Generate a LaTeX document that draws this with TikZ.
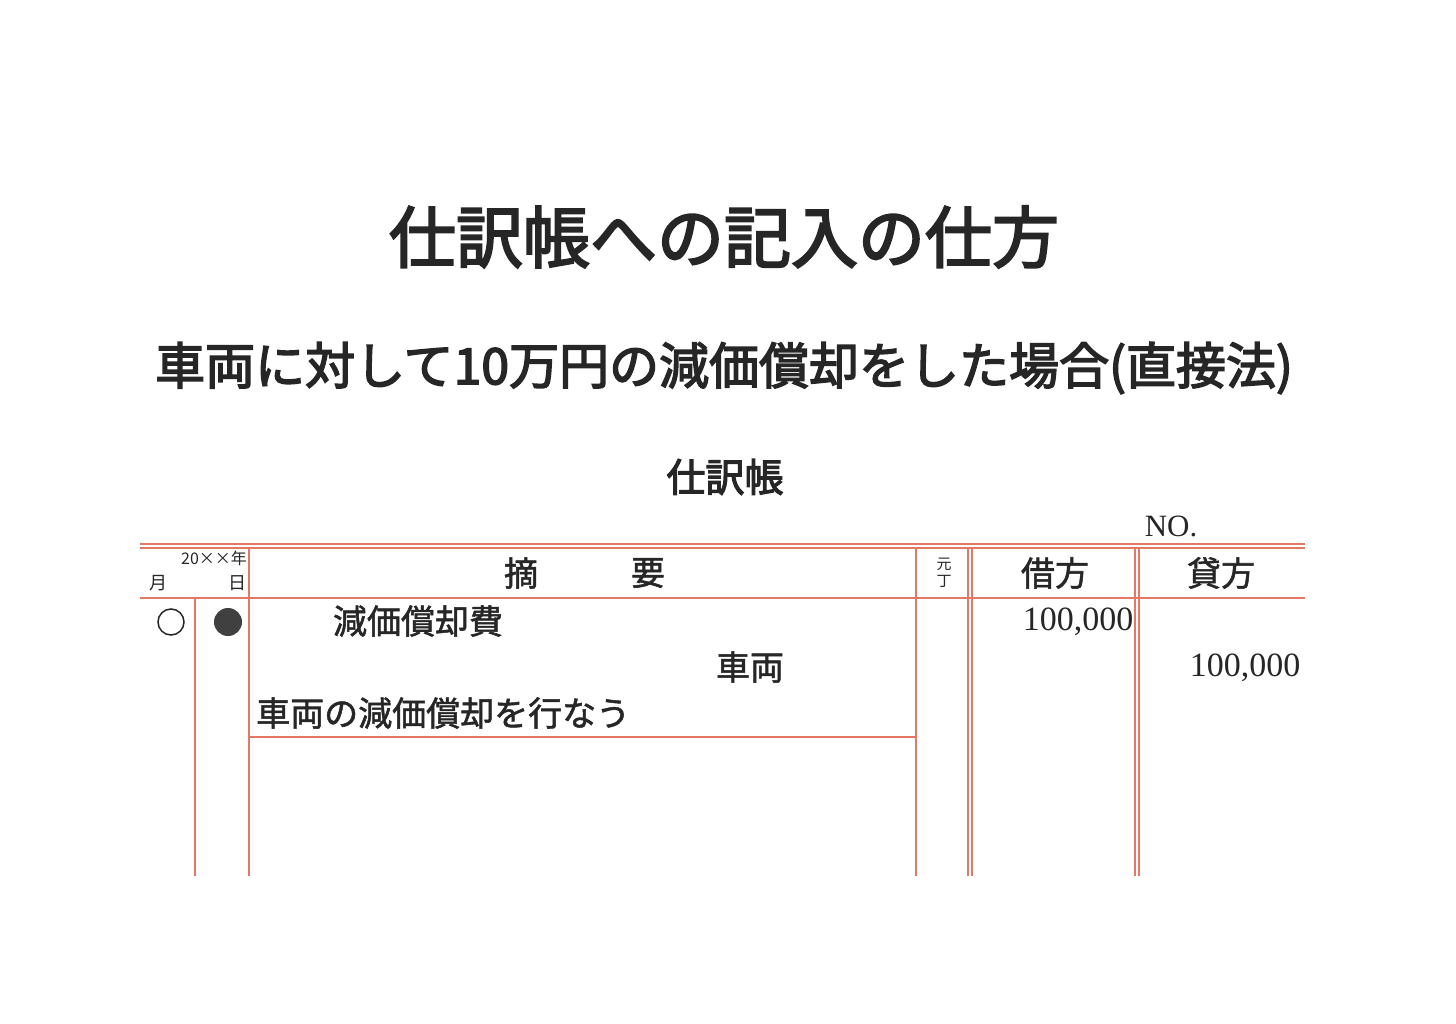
\documentclass[tikz,border=0pt]{standalone}
\usepackage{fontspec}
\setmainfont{Liberation Serif}
\newfontfamily\cjk{Noto Sans CJK JP}
\newfontfamily\cjkb{Noto Sans CJK JP}[FakeBold=3]
\newfontfamily\cjkm{Noto Sans CJK JP}[FakeBold=1.5]
\definecolor{rl}{RGB}{228,120,100}
\begin{document}
\begin{tikzpicture}[x=1pt,y=-1pt,
  rule/.style={draw=rl,line width=1.1pt},
  txt/.style={inner sep=0pt,font=\cjkm\fontsize{34}{34}\selectfont,text=black!85},
  num/.style={inner sep=0pt,font=\fontsize{34}{34}\selectfont,text=black!85}]
\useasboundingbox[fill=white] (0,0) rectangle (1456,1024);
\node[inner sep=0pt,font=\cjkb\fontsize{67}{67}\selectfont,text=black!85] (title) at (724,237) {仕訳帳への記入の仕方};
\node[inner sep=0pt,font=\cjkb\fontsize{50}{50}\selectfont,text=black!85] (sub) at (724,368) {車両に対して10万円の減価償却をした場合(直接法)};
\node[inner sep=0pt,font=\cjkb\fontsize{39}{39}\selectfont,text=black!85] (book) at (725,477) {仕訳帳};
\node[num,font=\fontsize{31}{31}\selectfont] (no) at (1171,526) {NO.};
% lines
\draw[rule] (140,544) -- (1305,544);
\draw[rule] (140,548) -- (1305,548);
\draw[rule] (140,598) -- (1305,598);
\draw[rule] (249,737) -- (916,737);
\draw[rule] (195,598) -- (195,876);
\draw[rule] (249,548) -- (249,876);
\draw[rule] (916,548) -- (916,876);
\draw[rule] (968,548) -- (968,876);
\draw[rule] (972,548) -- (972,876);
\draw[rule] (1135,548) -- (1135,876);
\draw[rule] (1139,548) -- (1139,876);
% header
\node[txt,font=\cjk\fontsize{16}{16}\selectfont] (yr) at (214,558) {20××年};
\node[txt,font=\cjk\fontsize{18}{18}\selectfont] (m) at (158,583) {月};
\node[txt,font=\cjk\fontsize{18}{18}\selectfont] (d) at (237,583) {日};
\node[txt] (t1) at (521,573) {摘};
\node[txt] (t2) at (648,573) {要};
\node[txt,font=\cjk\fontsize{15}{17}\selectfont,align=center] (mc) at (944,573) {元\\丁};
\node[txt] (dr) at (1055,573) {借方};
\node[txt] (cr) at (1221,573) {貸方};
% body
\draw[black!85,line width=1.5pt] (171,622) circle (13);
\fill[black!75] (228,622) circle (14);
\node[txt] (e1) at (418,621) {減価償却費};
\node[num] (n1) at (1078,622) {100,000};
\node[txt] (e2) at (750,667) {車両};
\node[num] (n2) at (1245,668) {100,000};
\node[txt,anchor=west] (e3) at (256,713) {車両の減価償却を行なう};
\end{tikzpicture}
\end{document}
